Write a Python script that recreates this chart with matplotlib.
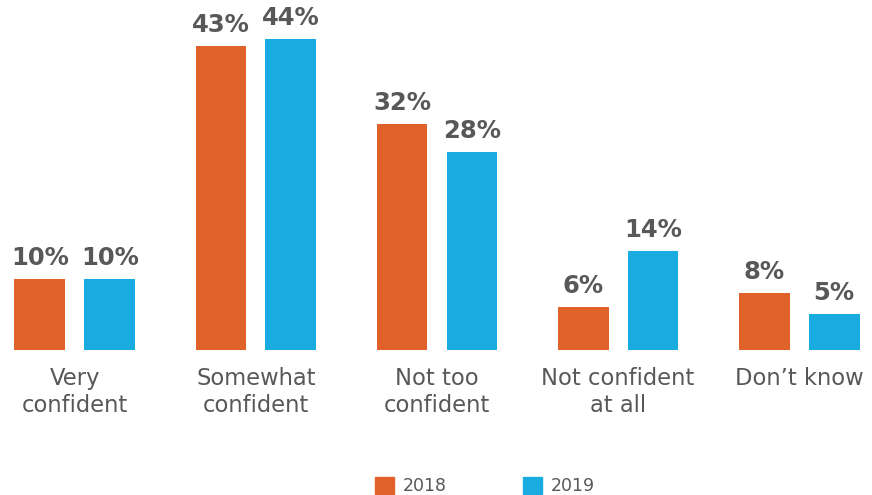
import numpy as np
import matplotlib
matplotlib.use("Agg")
import matplotlib.pyplot as plt
from matplotlib.patches import Patch

# Confiança por categoria, 2018 x 2019 (%)
categorias = ["Very\nconfident", "Somewhat\nconfident", "Not too\nconfident",
              "Not confident\nat all", "Don\u2019t know"]
valores_2018 = [10, 43, 32, 6, 8]
valores_2019 = [10, 44, 28, 14, 5]
anos = ["2018", "2019"]

cor_2018 = "#e0622a"
cor_2019 = "#1aace0"
cor_texto = "#58585b"

plt.rcParams["font.family"] = ["DejaVu Sans"]

fig = plt.figure(figsize=(8.72, 4.95), dpi=100)
ax = fig.add_axes([0, 0, 1, 1])

# escala: ~7.05 px por ponto percentual, base a 349.5 px do topo
px_por_pct = 7.05
px_grupo = 181.1
x0 = 74.8
ax.set_xlim(-x0 / px_grupo, (872 - x0) / px_grupo)
ax.set_ylim(-(495 - 349.5) / px_por_pct, 349.5 / px_por_pct)
ax.axis("off")

x = np.arange(len(categorias))
largura = 0.281
desloc = 0.193

b1 = ax.bar(x - desloc, valores_2018, largura, color=cor_2018)
b2 = ax.bar(x + desloc, valores_2019, largura, color=cor_2019)

# rótulos de valor acima das barras
for barras, vals in [(b1, valores_2018), (b2, valores_2019)]:
    for barra, v in zip(barras, vals):
        ax.annotate(f"{v}%", (barra.get_x() + barra.get_width() / 2, v),
                    xytext=(0, 10), textcoords="offset points",
                    ha="center", va="baseline", fontsize=17.5,
                    fontweight="bold", color=cor_texto)

# nomes das categorias abaixo
for xi, cat in zip(x, categorias):
    ax.text(xi, -2.5, cat, ha="center", va="top", fontsize=16.3,
            color=cor_texto, linespacing=1.2)

handles = [Patch(color=cor_2018), Patch(color=cor_2019)]
leg = fig.legend(handles, anos, loc="lower center", ncol=2,
                 bbox_to_anchor=(0.556, -0.032), frameon=False,
                 fontsize=12.5, handlelength=1.1, handleheight=1.1,
                 handletextpad=0.5, columnspacing=4.4)
for t in leg.get_texts():
    t.set_color(cor_texto)

fig.savefig("out.png", dpi=100)
